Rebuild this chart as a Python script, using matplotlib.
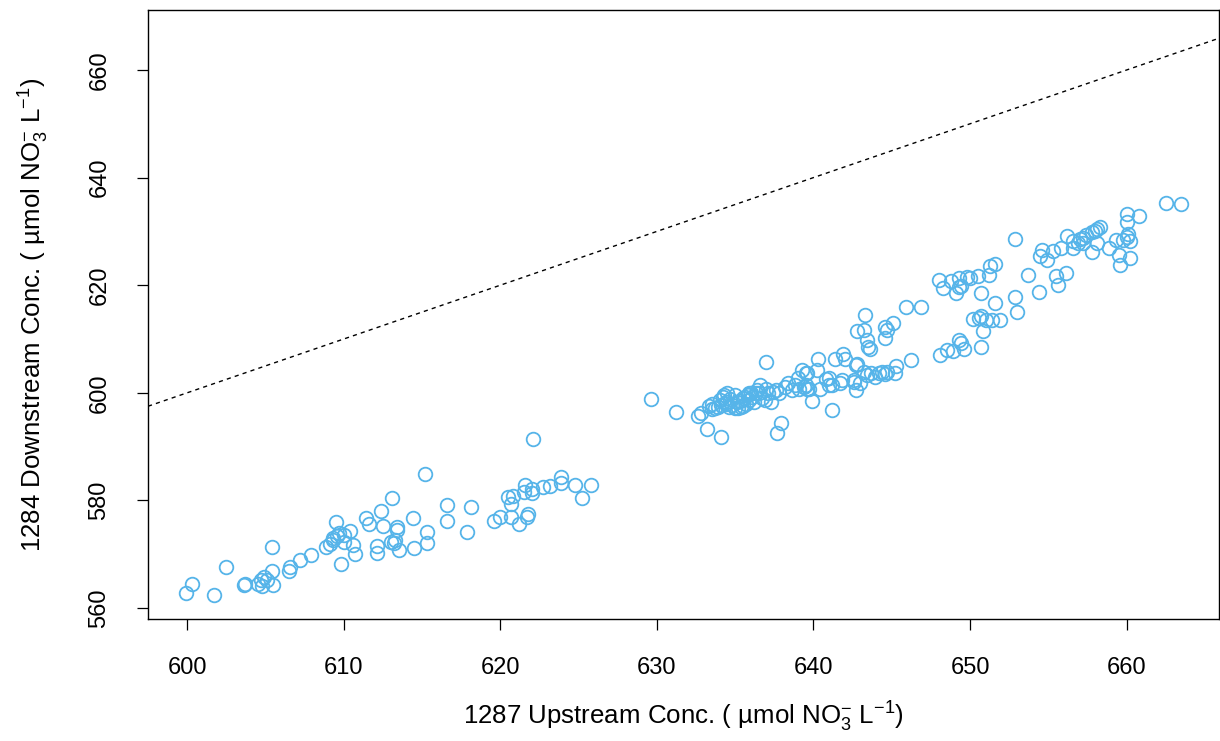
import numpy as np
import matplotlib
matplotlib.use("Agg")
import matplotlib.pyplot as plt

plt.rcParams["font.family"] = ["Liberation Sans", "DejaVu Sans"]
plt.rcParams["mathtext.default"] = "regular"

# upstream (x) vs downstream (y) nitrate
# lower cluster
up_low = [599.9, 600.3, 601.7, 602.5, 603.6, 603.7, 604.5, 604.7, 604.9, 605.1,
          604.8, 605.4, 605.4, 605.5, 606.5, 606.6, 607.2, 607.9, 608.9, 609.1,
          609.3, 609.5, 609.6, 609.8, 610.0, 610.0, 610.4, 610.6, 610.7, 609.7,
          609.3, 611.4, 611.6, 612.4, 612.5, 612.1, 612.1, 613.1, 613.0, 613.2,
          613.3, 613.4, 613.4, 613.5, 614.5, 614.4, 615.3, 615.3, 615.2, 616.6,
          616.6, 617.9, 618.1, 619.6, 620.0, 620.7, 621.2, 621.7, 621.8, 620.5,
          620.8, 620.7, 621.6, 621.5, 622.0, 622.0, 622.7, 623.2, 623.9, 623.9,
          624.8, 625.2, 625.8, 622.1]
down_low = [562.8, 564.4, 562.4, 567.6, 564.2, 564.5, 564.4, 565.2, 565.7, 565.2,
            564.1, 571.3, 566.9, 564.3, 566.9, 567.7, 568.9, 569.9, 571.4, 571.9,
            572.6, 576.0, 573.3, 568.2, 573.6, 572.3, 574.4, 571.7, 570.0, 573.9,
            573.0, 576.7, 575.7, 578.1, 575.2, 571.5, 570.2, 580.4, 572.3, 572.0,
            572.6, 575.1, 574.5, 570.8, 571.1, 576.7, 574.2, 572.1, 585.0, 579.1,
            576.2, 574.2, 578.7, 576.2, 576.9, 577.0, 575.7, 577.0, 577.4, 580.7,
            580.8, 579.3, 582.9, 581.6, 582.2, 581.3, 582.5, 582.7, 584.3, 583.3,
            582.9, 580.5, 582.9, 591.5]

# dense band around 633-640
up_mid = [629.6, 631.2, 632.6, 632.8, 633.2, 634.1, 637.0, 637.9, 637.7, 639.9,
          633.3, 633.5, 633.7, 633.9, 634.1, 634.3, 634.4, 634.5, 634.6, 634.8,
          635.0, 635.1, 635.2, 635.4, 635.5, 635.7, 635.8, 635.9, 636.1, 636.2,
          636.3, 636.4, 636.6, 636.7, 636.9, 637.1, 637.3, 637.4, 637.6, 637.8,
          638.2, 638.4, 638.6, 638.8, 639.0, 639.1, 639.3, 639.4, 639.6, 639.7,
          633.5, 634.0, 634.2, 634.7, 635.0, 635.3, 635.6, 636.0, 634.4, 635.5,
          636.5, 637.0, 635.9]
down_mid = [598.8, 596.4, 595.7, 596.3, 593.2, 591.8, 605.8, 594.4, 592.5, 598.5,
            597.5, 596.9, 597.1, 597.4, 597.7, 599.6, 598.3, 599.9, 597.4, 597.7,
            599.6, 598.3, 597.1, 597.4, 599.0, 598.0, 599.6, 598.7, 599.3, 598.3,
            599.9, 600.5, 601.4, 599.0, 598.7, 599.9, 598.3, 600.2, 600.5, 599.9,
            601.1, 601.9, 600.5, 601.4, 602.8, 600.8, 604.2, 601.1, 603.6, 600.8,
            598.0, 598.6, 599.3, 598.8, 597.2, 598.5, 599.3, 600.0, 597.9, 597.6,
            600.0, 600.8, 599.9]

# upper cluster
up_high = [641.2, 640.3, 640.2, 640.4, 640.8, 641.0, 641.7, 641.8, 641.4, 641.9,
           642.0, 642.7, 642.6, 643.0, 642.7, 643.4, 643.7, 643.9, 644.2, 644.4,
           644.6, 645.2, 645.3, 646.2, 642.8, 643.2, 644.6, 645.1, 643.4, 643.5,
           644.6, 643.3, 643.6, 644.7, 645.9, 646.9, 648.1, 648.5, 648.9, 649.3,
           649.4, 649.6, 650.7, 650.8, 650.2, 650.6, 650.7, 651.0, 651.4, 651.9,
           648.0, 648.3, 648.8, 649.1, 649.3, 649.4, 649.8, 650.0, 650.5, 650.7,
           651.2, 651.6, 651.3, 651.6, 642.8, 643.2, 644.7, 641.0, 641.2, 642.6,
           639.5, 639.6, 639.5, 662.5, 663.5, 660.0, 660.0, 660.8, 660.1, 660.0,
           660.2, 659.8, 659.3, 658.9, 659.5, 659.6, 660.2, 658.3, 658.1, 658.0,
           657.8, 657.4, 657.2, 657.0, 656.6, 656.2, 656.6, 658.1, 657.8, 657.2,
           656.9, 655.8, 655.3, 654.6, 654.5, 654.9, 652.9, 653.7, 654.4, 655.5,
           656.1, 655.6, 652.9, 653.0, 649.3]
down_high = [596.8, 606.2, 604.2, 600.8, 602.5, 601.4, 601.9, 602.3, 606.2, 607.2,
             606.2, 600.6, 602.1, 601.8, 605.2, 603.3, 603.6, 603.0, 603.6, 603.9,
             603.5, 603.6, 604.9, 606.1, 611.4, 611.7, 612.2, 613.0, 609.8, 608.6,
             610.1, 614.5, 608.1, 611.7, 616.0, 616.0, 607.0, 608.0, 607.8, 609.8,
             609.3, 608.1, 608.6, 611.4, 613.7, 613.9, 614.2, 613.5, 613.5, 613.5,
             621.0, 619.4, 620.7, 618.5, 621.3, 619.9, 621.6, 621.3, 621.7, 618.6,
             621.9, 616.7, 623.6, 623.9, 605.4, 603.9, 603.9, 602.7, 601.4, 602.4,
             601.4, 600.8, 603.6, 635.2, 635.1, 633.2, 631.8, 632.9, 629.6, 629.0,
             628.3, 628.4, 628.4, 626.9, 625.6, 623.8, 625.1, 630.9, 630.4, 630.1,
             629.8, 629.3, 628.8, 628.5, 628.2, 629.1, 626.9, 627.8, 626.1, 627.8,
             627.8, 626.9, 626.3, 626.6, 625.4, 624.7, 628.5, 621.9, 618.8, 621.7,
             622.3, 620.0, 617.9, 615.1, 619.6]

upstream = np.array(up_low + up_mid + up_high)
downstream = np.array(down_low + down_mid + down_high)

fig = plt.figure(figsize=(12.2, 7.41), dpi=100)
ax = fig.add_axes([148 / 1220, 1 - 619 / 741, 1071 / 1220, 609 / 741])

ax.plot(upstream, downstream, "o", mfc="none", mec="#56B4E9", ms=9.8, mew=1.3)

xl = (597.5, 665.9)
ax.plot(xl, xl, color="black", ls=(0, (3, 3)), lw=1.0)

ax.set_xlim(xl)
ax.set_ylim(557.96, 671.15)
ax.set_xticks(np.arange(600, 661, 10))
ax.set_yticks(np.arange(560, 661, 20))
ax.tick_params(direction="out", length=8, width=0.9, labelsize=17, pad=19)
for lab in ax.get_yticklabels():
    lab.set_rotation(90)
    lab.set_va("center")
for s in ax.spines.values():
    s.set_linewidth(1.0)

ax.set_xlabel("1287 Upstream Conc. ( µmol NO$_3^{-}$ L$^{-1}$)", fontsize=18.6, va="center")
ax.set_ylabel("1284 Downstream Conc. ( µmol NO$_3^{-}$ L$^{-1}$)", fontsize=18.6, va="center")
ax.xaxis.set_label_coords(0.5, (619 - 717) / 609)
ax.yaxis.set_label_coords((34 - 148) / 1071, 0.5)

fig.savefig("out.png", dpi=100)
